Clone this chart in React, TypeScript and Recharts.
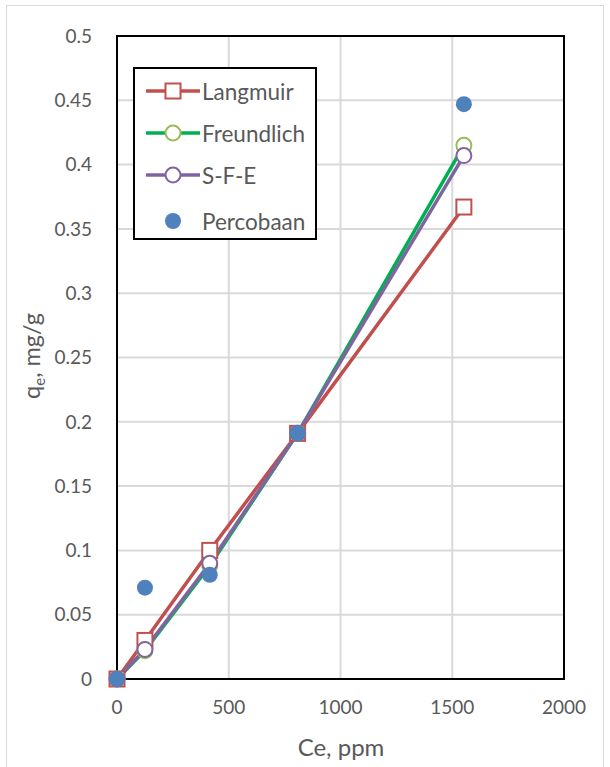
import React from 'react';
import {
  ComposedChart,
  Line,
  Scatter,
  XAxis,
  YAxis,
  CartesianGrid,
  ReferenceArea,
} from 'recharts';

const ce = [0, 125, 415, 808, 1552];
const langmuir = [0, 0.03, 0.1, 0.191, 0.367];
const freundlich = [0, 0.022, 0.088, 0.191, 0.415];
const sfe = [0, 0.023, 0.09, 0.191, 0.407];
const percobaan = [0, 0.071, 0.081, 0.191, 0.447];

const xTicks = [0, 500, 1000, 1500, 2000];
const yTicks = [0, 0.05, 0.1, 0.15, 0.2, 0.25, 0.3, 0.35, 0.4, 0.45, 0.5];

const toPoints = (ys: number[]) => ce.map((x, i) => ({ x, y: ys[i] }));

const FONT = 'Lato, "Open Sans", sans-serif';
const TXT = '#595959';

const RED = '#c0504d';
const GREEN = '#00b050';
const LIGHT_GREEN = '#9bbb59';
const PURPLE = '#8064a2';
const BLUE = '#4f81bd';

const SquareDot = (props: any) => {
  const { cx, cy } = props;
  if (cx == null || cy == null) return null;
  return <rect x={cx - 7.5} y={cy - 7.5} width={15} height={15} fill="#fff" stroke={RED} strokeWidth={2} />;
};

const ringDot = (color: string) => (props: any) => {
  const { cx, cy } = props;
  if (cx == null || cy == null) return null;
  return <circle cx={cx} cy={cy} r={7.5} fill="#fff" stroke={color} strokeWidth={2} />;
};

const YLabel = () => (
  <text
    x={40}
    y={356}
    transform="rotate(-90 40 356)"
    textAnchor="middle"
    fill={TXT}
    style={{ fontSize: 23.5, fontFamily: FONT }}
  >
    q<tspan style={{ fontSize: 15 }} dy={5}>e</tspan>
    <tspan dy={-5}>, mg/g</tspan>
  </text>
);

const XLabel = () => (
  <text x={341} y={756} textAnchor="middle" fill={TXT} style={{ fontSize: 24, fontFamily: FONT }}>
    Ce, ppm
  </text>
);

function LegendBox() {
  const rows = [
    { name: 'Langmuir', line: RED, marker: 'square', mk: RED },
    { name: 'Freundlich', line: GREEN, marker: 'circle', mk: LIGHT_GREEN },
    { name: 'S-F-E', line: PURPLE, marker: 'circle', mk: PURPLE },
    { name: 'Percobaan', line: null, marker: 'dot', mk: BLUE },
  ];
  return (
    <div
      style={{
        position: 'absolute',
        left: 133,
        top: 67,
        width: 184,
        height: 173,
        border: '2px solid #000',
        boxSizing: 'border-box',
        background: '#fff',
        fontFamily: FONT,
        fontSize: 22.5,
        color: TXT,
      }}
    >
      {rows.map((r, i) => (
        <div
          key={r.name}
          style={{
            position: 'absolute',
            left: 0,
            top: [7, 49, 91, 137][i],
            height: 30,
            display: 'flex',
            alignItems: 'center',
          }}
        >
          <svg width={56} height={30} style={{ marginLeft: 10 }}>
            {r.line && <line x1={1} y1={15} x2={55} y2={15} stroke={r.line} strokeWidth={3.5} />}
            {r.marker === 'square' && <rect x={20.5} y={7.5} width={15} height={15} fill="#fff" stroke={r.mk} strokeWidth={2} />}
            {r.marker === 'circle' && <circle cx={28} cy={15} r={7.5} fill="#fff" stroke={r.mk} strokeWidth={2} />}
            {r.marker === 'dot' && <circle cx={28} cy={15} r={8} fill={r.mk} />}
          </svg>
          <span style={{ marginLeft: 1 }}>{r.name}</span>
        </div>
      ))}
    </div>
  );
}

export default function App() {
  return (
    <div style={{ position: 'absolute', left: 0, top: 0, width: 610, height: 767, background: '#fff' }}>
      <div
        style={{
          position: 'absolute',
          left: 6,
          top: 5,
          width: 598,
          height: 770,
          border: '1px solid #d9d9d9',
          boxSizing: 'border-box',
        }}
      />
      <ComposedChart
        width={610}
        height={767}
        margin={{ top: 36, right: 46, bottom: 0, left: 0 }}
        style={{ position: 'absolute', left: 0, top: 0 }}
      >
        <CartesianGrid stroke="#d9d9d9" strokeWidth={2} />
        <XAxis
          type="number"
          dataKey="x"
          domain={[0, 2000]}
          ticks={xTicks}
          height={88}
          tickLine={false}
          axisLine={{ stroke: '#000', strokeWidth: 2 }}
          tick={{ fill: TXT, fontSize: 19, fontFamily: FONT }}
          tickMargin={16}
          allowDuplicatedCategory={false}
          label={<XLabel />}
        />
        <YAxis
          type="number"
          dataKey="y"
          domain={[0, 0.5]}
          ticks={yTicks}
          width={117}
          tickLine={false}
          axisLine={{ stroke: '#000', strokeWidth: 2 }}
          tick={{ fill: TXT, fontSize: 19, fontFamily: FONT }}
          tickFormatter={(v: number) => String(v)}
          tickMargin={19}
          label={<YLabel />}
        />
        <ReferenceArea x1={0} x2={2000} y1={0} y2={0.5} fill="none" stroke="#000" strokeWidth={2} ifOverflow="visible" />
        <Line
          data={toPoints(langmuir)}
          dataKey="y"
          stroke={RED}
          strokeWidth={3.5}
          dot={<SquareDot />}
          isAnimationActive={false}
        />
        <Line
          data={toPoints(freundlich)}
          dataKey="y"
          stroke={GREEN}
          strokeWidth={3.5}
          dot={ringDot(LIGHT_GREEN)}
          isAnimationActive={false}
        />
        <Line
          data={toPoints(sfe)}
          dataKey="y"
          stroke={PURPLE}
          strokeWidth={3.5}
          dot={ringDot(PURPLE)}
          isAnimationActive={false}
        />
        <Scatter data={toPoints(percobaan)} dataKey="y" fill={BLUE} shape={(p: any) => <circle cx={p.cx} cy={p.cy} r={8} fill={BLUE} />} isAnimationActive={false} />
      </ComposedChart>
      <LegendBox />
    </div>
  );
}
